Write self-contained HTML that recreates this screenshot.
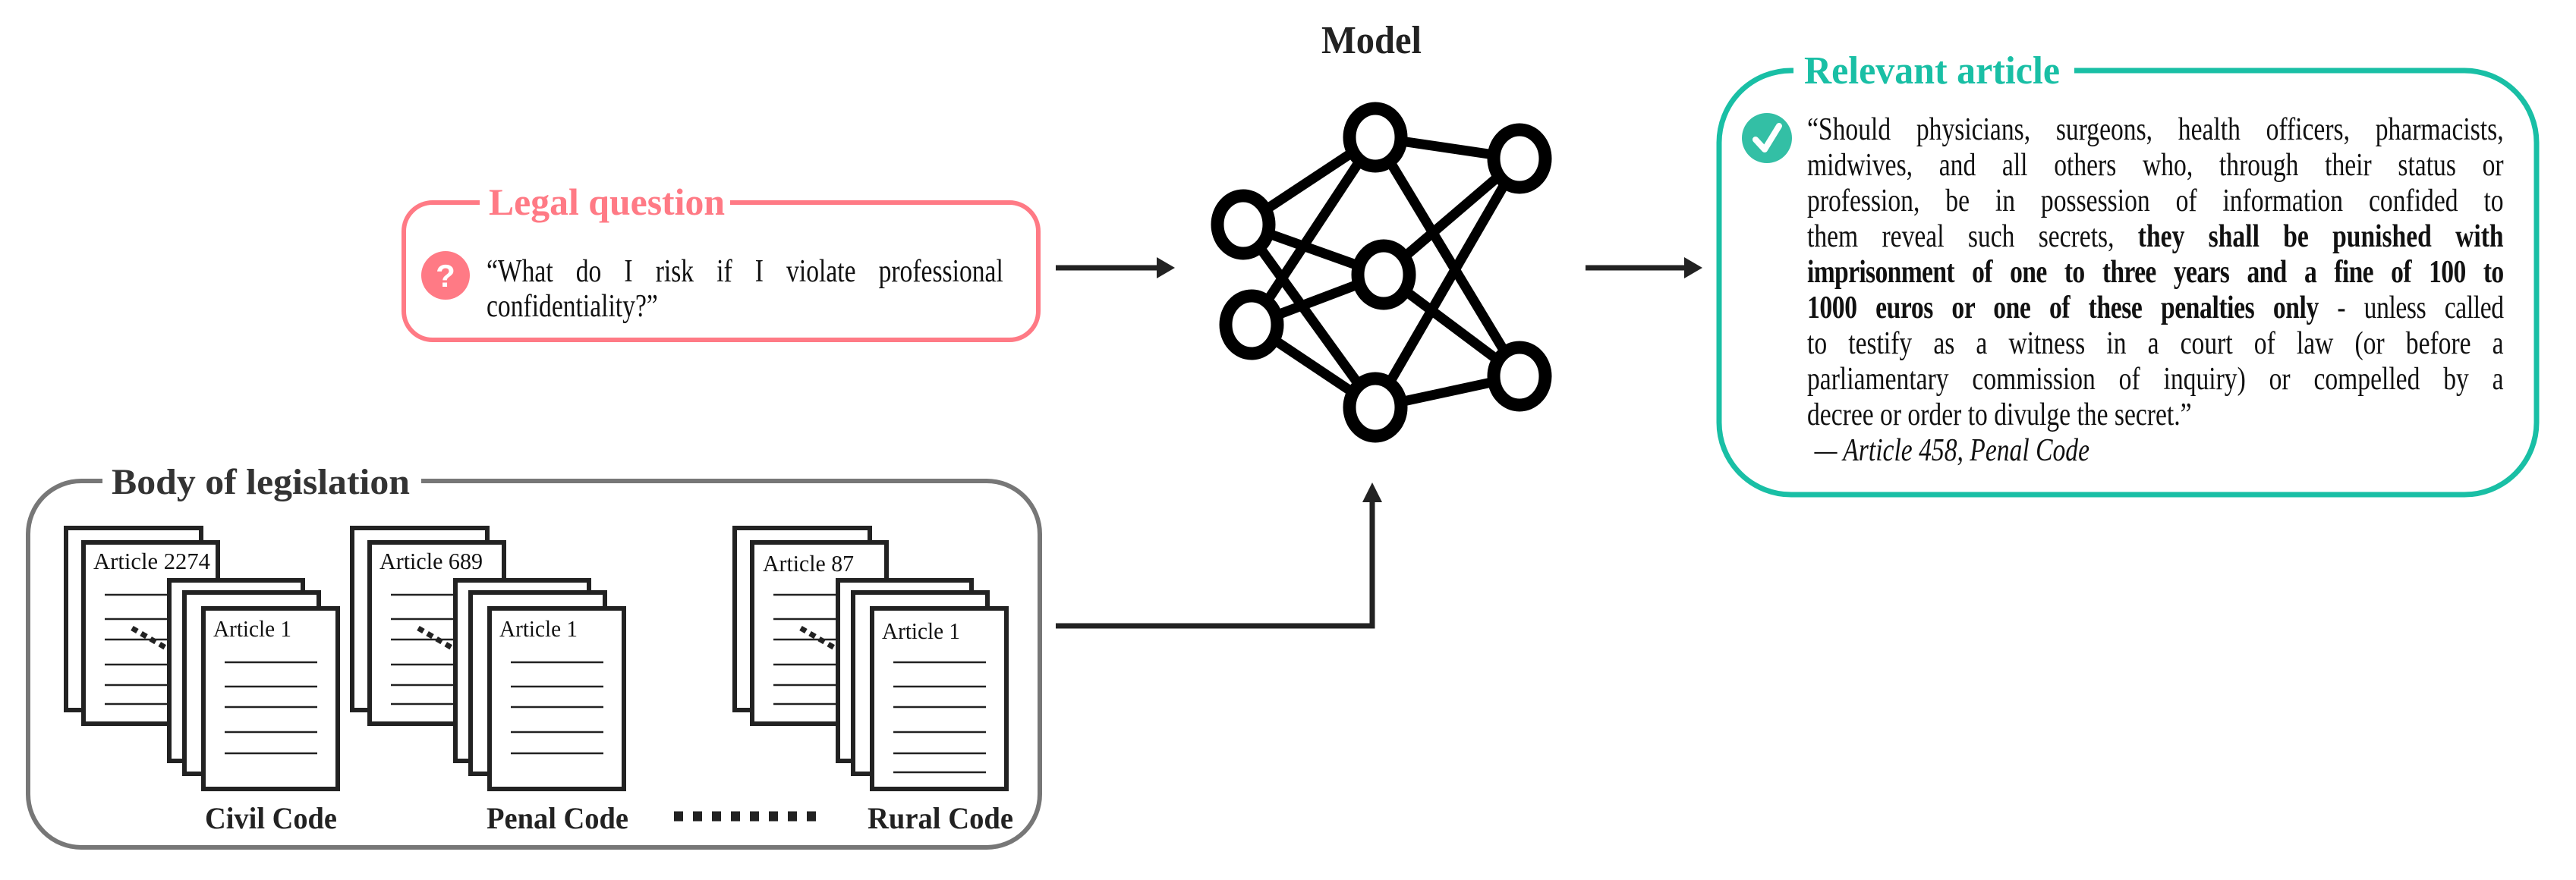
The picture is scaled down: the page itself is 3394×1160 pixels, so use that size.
<!DOCTYPE html>
<html><head><meta charset="utf-8"><style>
html,body{margin:0;padding:0;background:#fff;}
body{width:3394px;height:1160px;position:relative;overflow:hidden;font-family:"Liberation Serif",serif;}
.ab{position:absolute;transform-origin:0 0;}
.ln{display:block;text-align:justify;text-align-last:justify;white-space:nowrap;}
.pl{display:block;white-space:nowrap;}
</style></head><body>
<svg class="ab" style="left:0;top:0" width="3394" height="1160" viewBox="0 0 3394 1160">
<defs>
<g id="stack">
 <rect x="87" y="696" width="178" height="240" fill="#fff" stroke="#222" stroke-width="6"/>
 <rect x="110" y="715" width="177" height="239" fill="#fff" stroke="#222" stroke-width="6"/>
 <g stroke="#222" stroke-width="2.5">
  <line x1="138" y1="784" x2="221" y2="784"/><line x1="138" y1="816" x2="221" y2="816"/>
  <line x1="138" y1="843" x2="221" y2="843"/><line x1="138" y1="876" x2="221" y2="876"/>
  <line x1="138" y1="903" x2="221" y2="903"/><line x1="138" y1="928" x2="221" y2="928"/>
 </g>
 <line x1="174" y1="828" x2="222" y2="856" stroke="#222" stroke-width="7" stroke-dasharray="8 6"/>
 <rect x="223" y="765" width="176" height="238" fill="#fff" stroke="#222" stroke-width="6"/>
 <rect x="243" y="781" width="177" height="239" fill="#fff" stroke="#222" stroke-width="6"/>
 <rect x="268" y="802" width="177" height="238" fill="#fff" stroke="#222" stroke-width="6"/>
 <g stroke="#222" stroke-width="2.5">
  <line x1="296" y1="873" x2="418" y2="873"/><line x1="296" y1="905" x2="418" y2="905"/>
  <line x1="296" y1="932" x2="418" y2="932"/><line x1="296" y1="965" x2="418" y2="965"/>
  <line x1="296" y1="993" x2="418" y2="993"/>
 </g>
</g>
</defs>
<rect x="37" y="634" width="1333" height="483" rx="70" fill="none" stroke="#777" stroke-width="6"/>
<rect x="135" y="605" width="420" height="55" fill="#fff"/>
<text x="147" y="651" font-family="Liberation Serif" font-weight="bold" font-size="48" fill="#333" textLength="393" lengthAdjust="spacingAndGlyphs">Body of legislation</text>
<use href="#stack"/>
<use href="#stack" transform="translate(377,0)"/>
<use href="#stack" transform="translate(881,0)"/>
<line x1="1177" y1="1018" x2="1299" y2="1018" stroke="#222" stroke-width="2.5"/>
<g font-family="Liberation Serif" font-size="31" fill="#111">
 <text x="123" y="750" textLength="154" lengthAdjust="spacingAndGlyphs">Article 2274</text>
 <text x="281" y="839" textLength="103" lengthAdjust="spacingAndGlyphs">Article 1</text>
 <text x="500" y="750" textLength="136" lengthAdjust="spacingAndGlyphs">Article 689</text>
 <text x="658" y="839" textLength="103" lengthAdjust="spacingAndGlyphs">Article 1</text>
 <text x="1005" y="753" textLength="120" lengthAdjust="spacingAndGlyphs">Article 87</text>
 <text x="1162" y="842" textLength="103" lengthAdjust="spacingAndGlyphs">Article 1</text>
</g>
<g font-family="Liberation Serif" font-weight="bold" font-size="40" fill="#222">
 <text x="270" y="1092" textLength="174" lengthAdjust="spacingAndGlyphs">Civil Code</text>
 <text x="641" y="1092" textLength="187" lengthAdjust="spacingAndGlyphs">Penal Code</text>
 <text x="1143" y="1092" textLength="192" lengthAdjust="spacingAndGlyphs">Rural Code</text>
</g>
<line x1="888" y1="1076" x2="1078" y2="1076" stroke="#222" stroke-width="13" stroke-dasharray="12 13"/>
<rect x="532" y="267" width="836" height="181" rx="38" fill="none" stroke="#FF7A85" stroke-width="6"/>
<rect x="632" y="240" width="330" height="50" fill="#fff"/>
<text x="644" y="283" font-family="Liberation Serif" font-weight="bold" font-size="50" fill="#FF7A85" textLength="311" lengthAdjust="spacingAndGlyphs">Legal question</text>
<circle cx="587" cy="363" r="32" fill="#FF7A85"/>
<text x="587" y="378" font-family="Liberation Sans" font-weight="bold" font-size="42" fill="#fff" text-anchor="middle">?</text>
<rect x="2265" y="93" width="1077" height="559" rx="95" fill="none" stroke="#19BFA5" stroke-width="7"/>
<rect x="2363" y="60" width="370" height="60" fill="#fff"/>
<text x="2377" y="110" font-family="Liberation Serif" font-weight="bold" font-size="52" fill="#19BFA5" textLength="337" lengthAdjust="spacingAndGlyphs">Relevant article</text>
<circle cx="2328" cy="182" r="33" fill="#33BFA5"/>
<path d="M2313 184 L2325 197 L2344 166" fill="none" stroke="#fff" stroke-width="8" stroke-linecap="round" stroke-linejoin="round"/>
<text x="1741" y="70" font-family="Liberation Serif" font-weight="bold" font-size="52" fill="#222" textLength="132" lengthAdjust="spacingAndGlyphs">Model</text>
<g stroke="#000" stroke-width="13">
 <line x1="1638" y1="296" x2="1812" y2="181"/><line x1="1638" y1="296" x2="1823" y2="362"/><line x1="1638" y1="296" x2="1812" y2="537"/>
 <line x1="1649" y1="428" x2="1812" y2="181"/><line x1="1649" y1="428" x2="1823" y2="362"/><line x1="1649" y1="428" x2="1812" y2="537"/>
 <line x1="2002" y1="209" x2="1812" y2="181"/><line x1="2002" y1="209" x2="1823" y2="362"/><line x1="2002" y1="209" x2="1812" y2="537"/>
 <line x1="2002" y1="496" x2="1812" y2="181"/><line x1="2002" y1="496" x2="1823" y2="362"/><line x1="2002" y1="496" x2="1812" y2="537"/>
</g>
<g fill="#fff" stroke="#000" stroke-width="17">
 <ellipse cx="1812" cy="181" rx="34" ry="38"/><ellipse cx="2002" cy="209" rx="34" ry="38"/><ellipse cx="1638" cy="296" rx="34" ry="38"/>
 <ellipse cx="1823" cy="362" rx="34" ry="38"/><ellipse cx="1649" cy="428" rx="34" ry="38"/><ellipse cx="2002" cy="496" rx="34" ry="38"/>
 <ellipse cx="1812" cy="537" rx="34" ry="38"/>
</g>
<g stroke="#222" stroke-width="7" fill="none">
 <line x1="1391" y1="353" x2="1530" y2="353"/>
 <line x1="2089" y1="353" x2="2225" y2="353"/>
 <polyline points="1391,825 1808,825 1808,655"/>
</g>
<g fill="#222">
 <polygon points="1548,353 1524,339 1524,367"/>
 <polygon points="2243,353 2219,339 2219,367"/>
 <polygon points="1808,636 1795,662 1821,662"/>
</g>
</svg>
<div class="ab" style="left:641px;top:335px;width:851px;font-size:42px;line-height:46px;color:#111;transform:scaleX(0.8);">
<span class="ln">“What do I risk if I violate professional</span>
<span class="pl">confidentiality?”</span>
</div>
<div class="ab" style="left:2381px;top:148px;width:1147px;font-size:42px;line-height:47px;color:#111;transform:scaleX(0.8);">
<span class="ln">“Should physicians, surgeons, health officers, pharmacists,</span>
<span class="ln">midwives, and all others who, through their status or</span>
<span class="ln">profession, be in possession of information confided to</span>
<span class="ln">them reveal such secrets, <b>they shall be punished with</b></span>
<span class="ln" style="letter-spacing:-0.8px"><b>imprisonment of one to three years and a fine of 100 to</b></span>
<span class="ln" style="letter-spacing:-0.5px"><b>1000 euros or one of these penalties only</b> - unless called</span>
<span class="ln">to testify as a witness in a court of law (or before a</span>
<span class="ln">parliamentary commission of inquiry) or compelled by a</span>
<span class="pl">decree or order to divulge the secret.”</span>
<span class="pl" style="padding-left:12px"><i>— Article 458, Penal Code</i></span>
</div>
</body></html>
